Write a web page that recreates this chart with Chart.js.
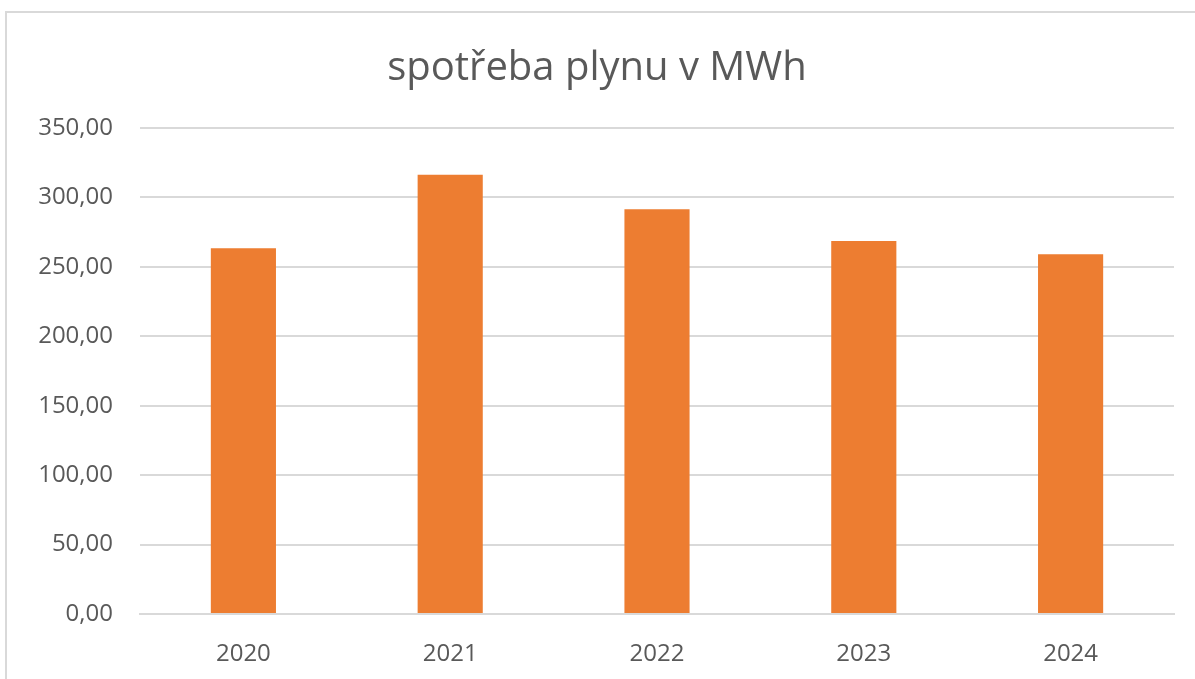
<!DOCTYPE html>
<html>
<head>
<meta charset="utf-8">
<script src="https://cdn.jsdelivr.net/npm/chart.js@4.4.1/dist/chart.umd.min.js"></script>
<style>
  html, body { margin: 0; padding: 0; background: #fff; }
  #wrap { position: relative; width: 1195px; height: 679px; }
  #frame {
    position: absolute; left: 5px; top: 11px; right: 0; bottom: 0;
    border-top: 2px solid #d9d9d9; border-left: 2px solid #d9d9d9;
    pointer-events: none;
  }
</style>
</head>
<body>
<div id="wrap">
  <canvas id="gas-canvas" width="1195" height="679"></canvas>
  <div id="frame"></div>
</div>
<script>
var years = ['2020', '2021', '2022', '2023', '2024'];
var consumption = [263.4, 316.3, 291.5, 268.6, 259.1];
var yTicks = [0, 50, 100, 150, 200, 250, 300, 350];

var textGray = '#595959';
var gridGray = '#d9d9d9';

var fmt = (v) => v.toFixed(2).replace('.', ',');

var configGas = {
    type: 'bar',
    data: {
        labels: years,
        datasets: [{
            label: 'spotřeba plynu v MWh',
            data: consumption,
            backgroundColor: '#ed7d31',
            borderWidth: 0,
            categoryPercentage: 1,
            barPercentage: 0.315
        }]
    },
    options: {
        responsive: false,
        animation: false,
        layout: { padding: { left: 20, right: 21, top: 0, bottom: 10 } },
        plugins: {
            legend: { display: false },
            tooltip: { enabled: false },
            title: {
                display: true,
                text: 'spotřeba plynu v MWh',
                color: textGray,
                font: { family: 'Open Sans', size: 40, weight: 'normal' },
                padding: { top: 45, bottom: 35 }
            }
        },
        scales: {
            x: {
                grid: { display: false, drawTicks: false },
                border: { display: true, color: gridGray, width: 2 },
                ticks: {
                    color: textGray,
                    font: { family: 'Open Sans', size: 24 },
                    padding: 26
                },
                afterFit: (s) => { s.height = 55; }
            },
            y: {
                min: 0,
                max: 350,
                afterBuildTicks: (s) => { s.ticks = yTicks.map(v => ({ value: v })); },
                grid: { color: gridGray, lineWidth: 2, drawTicks: false },
                border: { display: false },
                ticks: {
                    color: textGray,
                    font: { family: 'Open Sans', size: 24 },
                    padding: 27,
                    callback: (v) => fmt(v)
                },
                afterFit: (s) => { s.width = 120; }
            }
        }
    }
};

window.gas = new Chart('gas-canvas', configGas);
</script>
</body>
</html>
